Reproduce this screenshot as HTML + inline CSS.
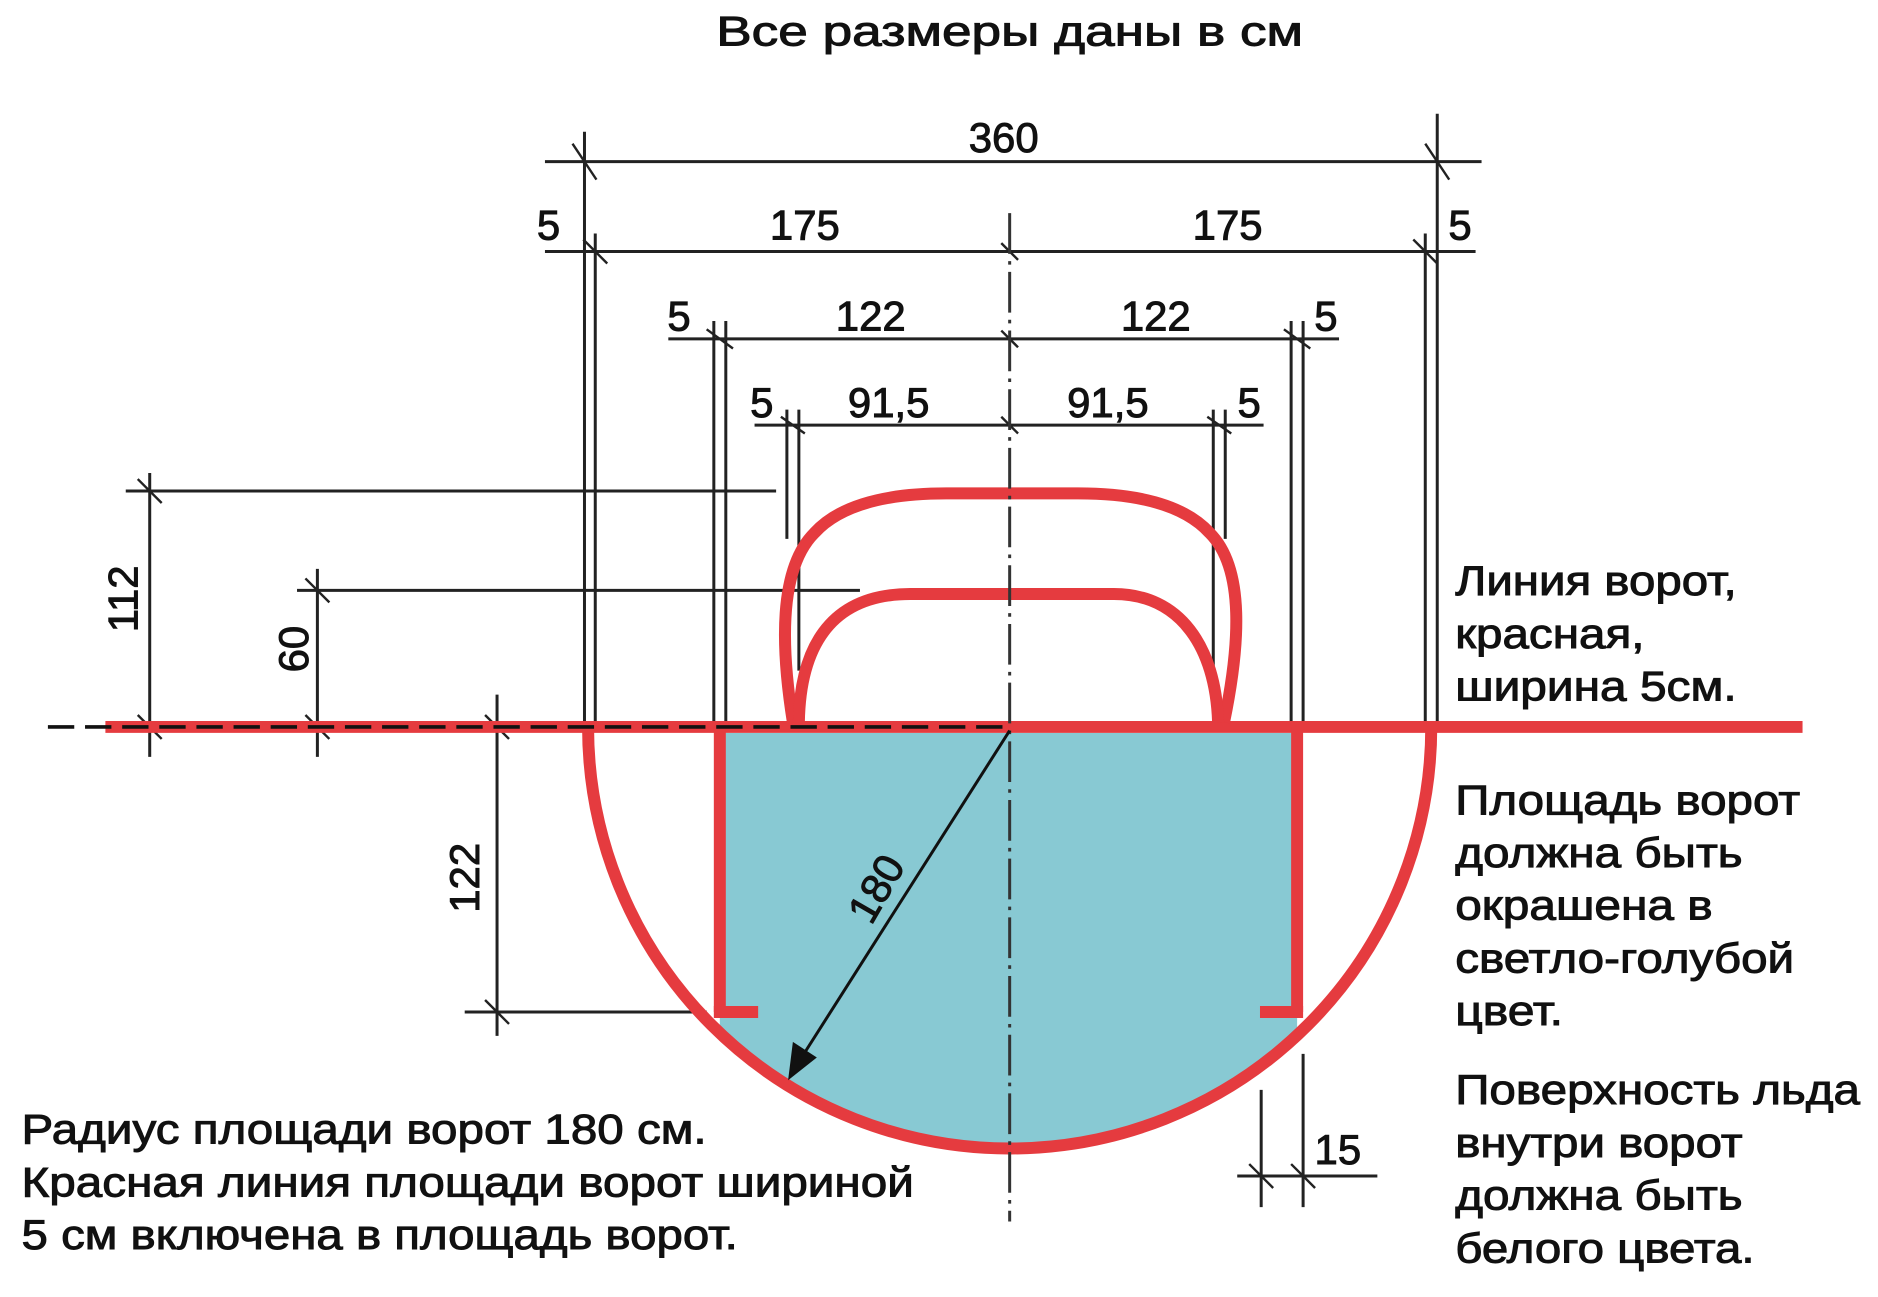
<!DOCTYPE html>
<html><head><meta charset="utf-8"><style>html,body{margin:0;padding:0;background:#fff}svg{display:block}</style></head>
<body>
<svg width="1878" height="1297" viewBox="0 0 1568 1083" preserveAspectRatio="none" xmlns="http://www.w3.org/2000/svg" font-family="Liberation Sans, DejaVu Sans, sans-serif" font-size="35" fill="#111">
<defs>
<clipPath id="cc"><path d="M491,607 A352,352 0 0 0 1195,607 Z"/></clipPath>
</defs>
<rect x="601" y="612" width="482" height="400" fill="#88c9d3" clip-path="url(#cc)"/>
<g stroke="#222" stroke-width="2.5" fill="none">
<line x1="488" y1="110" x2="488" y2="607"/><line x1="497" y1="195" x2="497" y2="607"/>
<line x1="1200" y1="95" x2="1200" y2="607"/><line x1="1190" y1="195" x2="1190" y2="607"/>
<line x1="596" y1="268" x2="596" y2="607"/><line x1="606" y1="268" x2="606" y2="607"/>
<line x1="1078" y1="268" x2="1078" y2="607"/><line x1="1088" y1="268" x2="1088" y2="607"/>
<line x1="657" y1="342" x2="657" y2="450"/><line x1="667" y1="342" x2="667" y2="560"/>
<line x1="1013" y1="342" x2="1013" y2="560"/><line x1="1023" y1="342" x2="1023" y2="450"/>
<line x1="455" y1="135" x2="1237" y2="135"/>
<line x1="455" y1="210" x2="1232" y2="210"/>
<line x1="558" y1="283" x2="1118" y2="283"/>
<line x1="630" y1="355" x2="1055" y2="355"/>
<line x1="105" y1="410" x2="648" y2="410"/><line x1="125" y1="395" x2="125" y2="632"/>
<line x1="248" y1="493" x2="718" y2="493"/><line x1="265" y1="475" x2="265" y2="632"/>
<line x1="388" y1="845" x2="590" y2="845"/><line x1="415" y1="580" x2="415" y2="865"/>
<line x1="1053" y1="910" x2="1053" y2="1008"/><line x1="1088" y1="880" x2="1088" y2="1008"/>
<line x1="1033" y1="982" x2="1150" y2="982"/>
<g stroke-width="2">
<line x1="478" y1="120" x2="498" y2="150"/><line x1="1190" y1="120" x2="1210" y2="150"/>
<line x1="487" y1="200" x2="507" y2="220"/><line x1="1180" y1="200" x2="1200" y2="220"/><line x1="836" y1="203" x2="850" y2="217"/>
<line x1="590" y1="275" x2="612" y2="291"/><line x1="1072" y1="275" x2="1094" y2="291"/><line x1="836" y1="276" x2="850" y2="290"/>
<line x1="652" y1="348" x2="672" y2="362"/><line x1="1008" y1="348" x2="1028" y2="362"/><line x1="836" y1="348" x2="850" y2="362"/>
<line x1="115" y1="400" x2="135" y2="420"/><line x1="115" y1="597" x2="135" y2="617"/>
<line x1="255" y1="483" x2="275" y2="503"/><line x1="255" y1="597" x2="275" y2="617"/>
<line x1="405" y1="597" x2="425" y2="617"/><line x1="405" y1="835" x2="425" y2="855"/>
<line x1="1043" y1="972" x2="1063" y2="992"/><line x1="1078" y1="972" x2="1098" y2="992"/>
</g>
</g>
<g stroke="#e53b3f" stroke-width="10" fill="none">
<line x1="88" y1="607" x2="1505" y2="607"/>
<path d="M491,607 A352,352 0 0 0 1195,607"/>
<line x1="601" y1="607" x2="601" y2="845"/><line x1="1083" y1="607" x2="1083" y2="845"/>
<line x1="596" y1="845" x2="633" y2="845"/><line x1="1052" y1="845" x2="1088" y2="845"/>
<path d="M662,603 C652,540 650,475 680,445 Q710,412 790,412 L900,412 Q980,412 1010,445 C1040,475 1035,540 1022,603"/>
<path d="M667,603 C668,545 690,496 760,496 L930,496 C985,496 1015,540 1017,603"/>
</g>
<line x1="40" y1="607" x2="843" y2="607" stroke="#111" stroke-width="3" stroke-dasharray="22,9"/>
<line x1="843" y1="178" x2="843" y2="1020" stroke="#333" stroke-width="2.5" stroke-dasharray="34,6,3,6"/>
<line x1="843" y1="610" x2="668" y2="885" stroke="#111" stroke-width="2.5"/>
<polygon points="658,902 662,870 682,883" fill="#111"/>
<g stroke="#111" stroke-width="0.8">
<g font-size="35">
<text x="838" y="127" text-anchor="middle">360</text>
<text x="458" y="200" text-anchor="middle">5</text>
<text x="672" y="200" text-anchor="middle">175</text>
<text x="1025" y="200" text-anchor="middle">175</text>
<text x="1219" y="200" text-anchor="middle">5</text>
<text x="567" y="276" text-anchor="middle">5</text>
<text x="727" y="276" text-anchor="middle">122</text>
<text x="965" y="276" text-anchor="middle">122</text>
<text x="1107" y="276" text-anchor="middle">5</text>
<text x="636" y="348" text-anchor="middle">5</text>
<text x="742" y="348" text-anchor="middle">91,5</text>
<text x="925" y="348" text-anchor="middle">91,5</text>
<text x="1043" y="348" text-anchor="middle">5</text>
<text x="1117" y="972" text-anchor="middle">15</text>
<text transform="translate(115,500) rotate(-90)" text-anchor="middle">112</text>
<text transform="translate(257,542) rotate(-90)" text-anchor="middle">60</text>
<text transform="translate(400,733) rotate(-90)" text-anchor="middle">122</text>
<text transform="translate(742,748) rotate(-60)" text-anchor="middle">180</text>
</g>
<text x="843" y="38" text-anchor="middle" textLength="490" lengthAdjust="spacingAndGlyphs">Все размеры даны в см</text>
<text x="1215" y="497" textLength="235" lengthAdjust="spacingAndGlyphs">Линия ворот,</text>
<text x="1215" y="541" textLength="158" lengthAdjust="spacingAndGlyphs">красная,</text>
<text x="1215" y="585" textLength="235" lengthAdjust="spacingAndGlyphs">ширина 5см.</text>
<text x="1215" y="680" textLength="288" lengthAdjust="spacingAndGlyphs">Площадь ворот</text>
<text x="1215" y="724" textLength="240" lengthAdjust="spacingAndGlyphs">должна быть</text>
<text x="1215" y="768" textLength="215" lengthAdjust="spacingAndGlyphs">окрашена в</text>
<text x="1215" y="812" textLength="283" lengthAdjust="spacingAndGlyphs">светло-голубой</text>
<text x="1215" y="856" textLength="90" lengthAdjust="spacingAndGlyphs">цвет.</text>
<text x="1215" y="922" textLength="338" lengthAdjust="spacingAndGlyphs">Поверхность льда</text>
<text x="1215" y="966" textLength="240" lengthAdjust="spacingAndGlyphs">внутри ворот</text>
<text x="1215" y="1010" textLength="240" lengthAdjust="spacingAndGlyphs">должна быть</text>
<text x="1215" y="1054" textLength="250" lengthAdjust="spacingAndGlyphs">белого цвета.</text>
<text x="18" y="955" textLength="572" lengthAdjust="spacingAndGlyphs">Радиус площади ворот 180 см.</text>
<text x="18" y="999" textLength="745" lengthAdjust="spacingAndGlyphs">Красная линия площади ворот шириной</text>
<text x="18" y="1043" textLength="598" lengthAdjust="spacingAndGlyphs">5 см включена в площадь ворот.</text>
</g>
</svg>
</body></html>
